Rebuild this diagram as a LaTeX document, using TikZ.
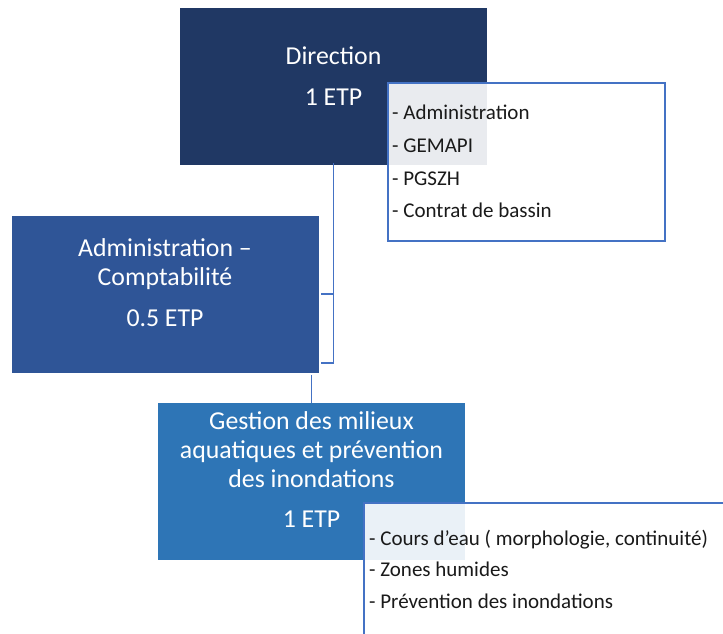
\documentclass[tikz,border=0pt]{standalone}
\usepackage{fontspec}
\setmainfont{Carlito}
\definecolor{navy}{HTML}{203864}
\definecolor{midblue}{HTML}{2F5597}
\definecolor{lightblue}{HTML}{2E75B6}
\definecolor{lineblue}{HTML}{4472C4}
\definecolor{itemtext}{HTML}{1A1A1A}
\begin{document}
\begin{tikzpicture}[x=1pt,y=-1pt,
 orgbox/.style={draw=none, minimum width=307pt, minimum height=157pt, anchor=north west, inner sep=0pt, outer sep=0pt},
 title/.style={text=white, font=\fontsize{25.8}{30}\selectfont, anchor=base, inner sep=0pt},
 item/.style={font=\fontsize{21}{24}\selectfont, anchor=base west, inner sep=0pt, text=itemtext},
 conn/.style={draw=lineblue, line width=1.4pt},
 note/.style={fill=white, fill opacity=0.9, draw=none, anchor=north west, inner sep=0pt, outer sep=0pt},
 noteline/.style={draw=lineblue, line width=1.3pt}]
\useasboundingbox[fill=white] (0,0) rectangle (723,633);

% org boxes
\node[orgbox, fill=navy] (dir) at (180,8) {};
\node[orgbox, fill=midblue] (adm) at (12,216) {};
\node[orgbox, fill=lightblue] (gest) at (158,403) {};

% connectors
\coordinate (b1) at (333.5,294);
\coordinate (b2) at (333.5,363);
\coordinate (g0) at (311.5,375);
\draw[conn] ([yshift=2pt]dir.south -| b1) -- (b2) -- ++(-13,0);
\draw[conn] (b1) -- ++(-13,0);
\draw[conn] (g0) -- (gest.north);

% titles
\node[title] (dirt1) at (333.5,64) {Direction};
\node[title] (dirt2) at (333.5,105) {1 ETP};
\node[title] (admt1) at (165,256.5) {Administration –};
\node[title] (admt2) at (165,285) {Comptabilité};
\node[title] (admt3) at (165,326.5) {0.5 ETP};
\node[title] (gt1) at (311.5,429) {Gestion des milieux};
\node[title] (gt2) at (311.5,458) {aquatiques et prévention};
\node[title] (gt3) at (311.5,487) {des inondations};
\node[title] (gt4) at (311.5,527) {1 ETP};

% note 1
\node[note, minimum width=277pt, minimum height=158pt] (n1) at (388,83) {};
\draw[noteline] (n1.north west) rectangle (n1.south east);
\node[item] (n1a) at (392,119) {- Administration};
\node[item] (n1b) at (392,152) {- GEMAPI};
\node[item] (n1c) at (392,185) {- PGSZH};
\node[item] (n1d) at (392,217) {- Contrat de bassin};

% note 2
\node[note, minimum width=370pt, minimum height=140pt] (n2) at (364,503) {};
\draw[noteline] (n2.south west) -- (n2.north west) -- (n2.north east);
\node[item] (n2a) at (369,545) {- Cours d’eau ( morphologie, continuité)};
\node[item] (n2b) at (369,576) {- Zones humides};
\node[item] (n2c) at (369,608) {- Prévention des inondations};
\end{tikzpicture}
\end{document}
